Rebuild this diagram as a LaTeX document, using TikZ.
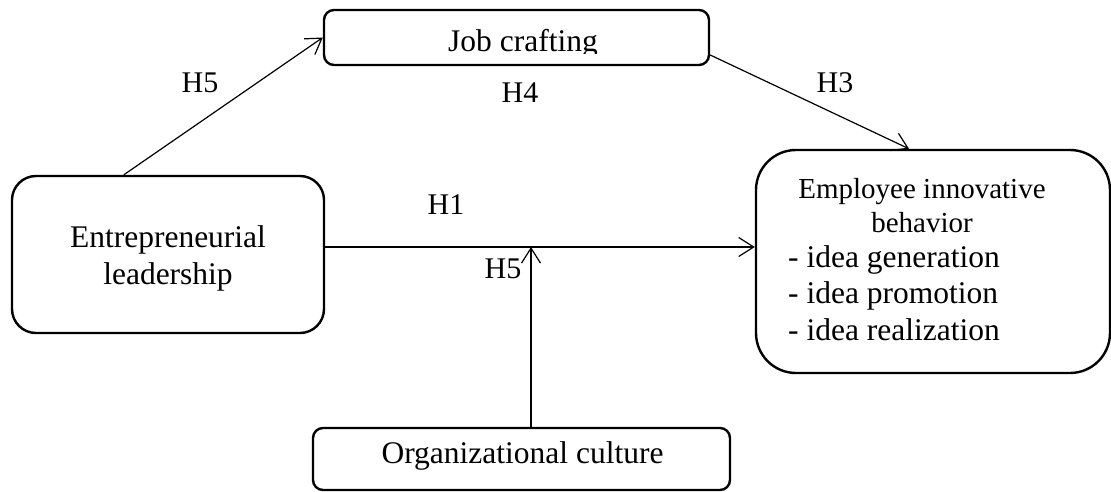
\documentclass[tikz,border=0pt]{standalone}
\usepackage{fontspec}
\setmainfont{Liberation Serif}
\usetikzlibrary{arrows.meta,calc}
\tikzset{
  boxnode/.style={draw=black, line width=2.4pt, rectangle, inner sep=0pt},
  txt/.style={inner sep=0pt, font=\fontsize{31.5}{37}\selectfont},
  htxt/.style={inner sep=0pt, font=\fontsize{29}{34}\selectfont},
  hlab/.style={inner sep=0pt, anchor=base, font=\fontsize{30}{34}\selectfont},
  arr/.style={draw=black, line width=1.2pt, -{Straight Barb[length=15pt,width=19pt,line width=1.2pt]}}
}
\begin{document}
\begin{tikzpicture}[x=1pt,y=-1pt]
\useasboundingbox (0,0) rectangle (1111,492);
% boxes
\node[boxnode, rounded corners=10pt, minimum width=385pt, minimum height=55pt] (jc) at (516.5,37.5) {};
\node[boxnode, rounded corners=24pt, minimum width=312pt, minimum height=157pt] (el) at (168,254.5) {};
\node[boxnode, rounded corners=40pt, minimum width=354pt, minimum height=223pt] (eib) at (933,261.5) {};
\node[boxnode, rounded corners=10pt, minimum width=417pt, minimum height=62pt] (oc) at (521.5,459) {};
% texts
\begin{scope}
\clip (300,0) rectangle (750,53.5);
\node[txt, anchor=base] (jct) at (523,52) {Job crafting};
\end{scope}
\node[txt, anchor=base] (el1) at (168,247) {Entrepreneurial};
\node[txt, anchor=base] (el2) at (168,284) {leadership};
\node[htxt, anchor=base] (eh1) at (922,198) {Employee innovative};
\node[htxt, anchor=base] (eh2) at (922,232) {behavior};
\node[txt, anchor=base west] (ei1) at (788,267) {- idea generation};
\node[txt, anchor=base west] (ei2) at (788,303) {- idea promotion};
\node[txt, anchor=base west] (ei3) at (788,340) {- idea realization};
\node[txt, anchor=base] (oct) at (522.5,463) {Organizational culture};
% labels
\node[hlab] (h5a) at (200,93) {H5};
\node[hlab] (h4) at (520,103) {H4};
\node[hlab] (h3) at (835,93) {H3};
\node[hlab] (h1) at (446,214) {H1};
\node[hlab] (h5b) at (503,278) {H5};
% connectors
\draw[arr] ([xshift=113pt]el.north west) -- (jc.west);
\draw[arr] ([yshift=-17.5pt]jc.east) -- ([xshift=-24pt]eib.north);
\coordinate (h1s) at ([yshift=7.5pt]el.east);
\draw[arr] (h1s) -- (h1s -| eib.west);
\coordinate (vs) at ([xshift=9.5pt]oc.north);
\draw[arr] (vs) -- (vs |- h1s);
\end{tikzpicture}
\end{document}
